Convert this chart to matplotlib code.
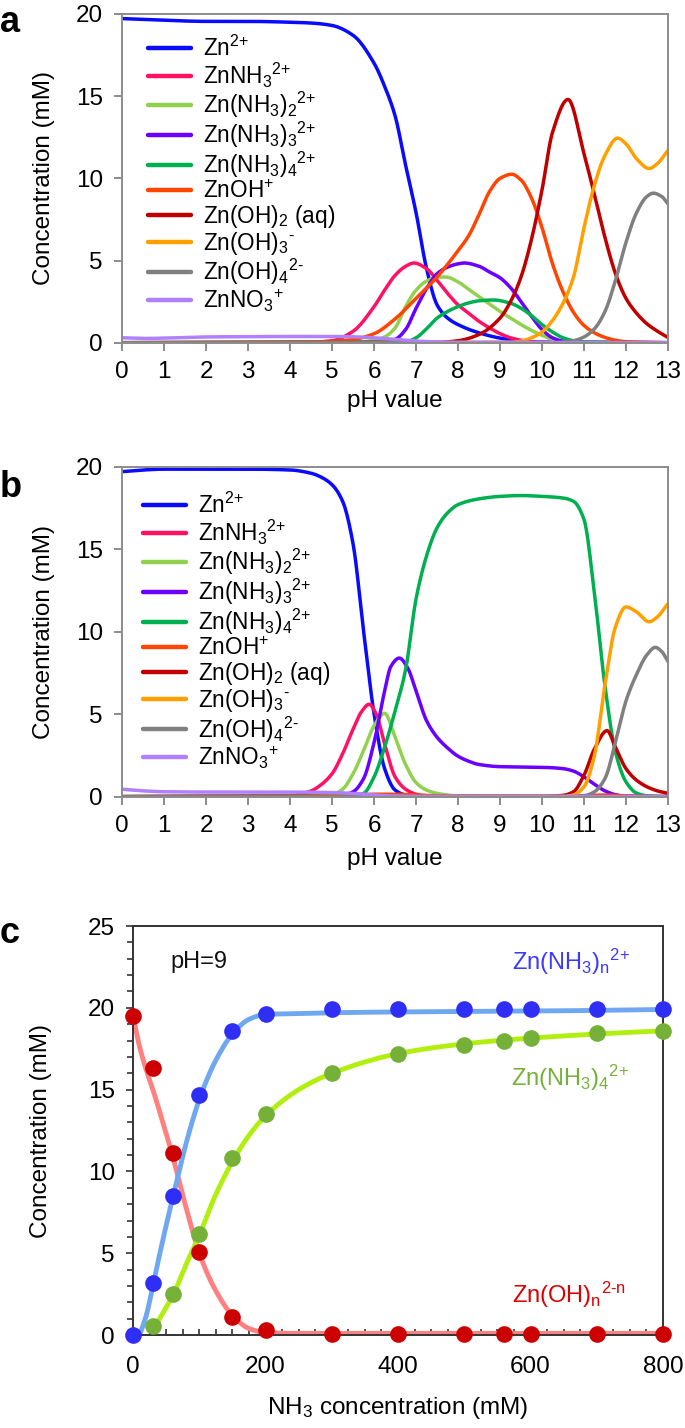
import numpy as np
import matplotlib
matplotlib.use('Agg')
import matplotlib.pyplot as plt

plt.rcParams['font.family'] = ['Liberation Sans', 'DejaVu Sans']
plt.rcParams['mathtext.fontset'] = 'custom'
plt.rcParams['mathtext.rm'] = 'Liberation Sans'
plt.rcParams['mathtext.it'] = 'Liberation Sans:italic'
plt.rcParams['mathtext.bf'] = 'Liberation Sans:bold'
plt.rcParams['mathtext.default'] = 'regular'

# ---- species (panels a and b) ----
species = [r'Zn$^{\text{2+}}$', r'ZnNH$_3{}^{\text{2+}}$', r'Zn(NH$_3$)$_2{}^{\text{2+}}$',
           r'Zn(NH$_3$)$_3{}^{\text{2+}}$', r'Zn(NH$_3$)$_4{}^{\text{2+}}$', r'ZnOH$^{\text{+}}$',
           r'Zn(OH)$_2$ (aq)', r'Zn(OH)$_3{}^{\text{-}}$', r'Zn(OH)$_4{}^{\text{2-}}$',
           r'ZnNO$_3{}^{\text{+}}$']
colors = ['#0a0aff', '#ff1166', '#92d050', '#6a00ff', '#00b050', '#ff4500',
          '#c00000', '#ffa000', '#808080', '#b080ff']

# panel a: (pH points, concentration mM) per species
ph_a_zn = [0, 1, 2, 3, 4, 4.5, 5, 5.5, 6, 6.25, 6.5, 6.75, 7, 7.25, 7.5, 7.75, 8, 8.5, 9, 9.5, 10, 13]
c_a_zn = [19.72, 19.62, 19.55, 19.55, 19.5, 19.45, 19.3, 18.7, 17.0, 15.6, 13.8, 10.8, 7.9, 4.5, 2.3, 1.5, 1.1, 0.6, 0.28, 0.1, 0.03, 0]
ph_a_n1 = [0, 4.5, 5, 5.5, 6, 6.25, 6.5, 6.75, 6.95, 7.25, 7.5, 7.75, 8, 8.25, 8.5, 8.75, 9, 9.25, 9.5, 9.75, 10, 13]
c_a_n1 = [0, 0.03, 0.12, 0.7, 2.2, 3.2, 4.1, 4.65, 4.85, 4.5, 3.8, 3.0, 2.3, 1.8, 1.3, 0.9, 0.55, 0.3, 0.15, 0.06, 0.02, 0]
ph_a_n2 = [0, 5.5, 6, 6.25, 6.5, 6.75, 7, 7.25, 7.5, 7.7, 8, 8.25, 8.5, 8.75, 9, 9.25, 9.5, 9.75, 10, 10.25, 10.5, 13]
c_a_n2 = [0, 0.02, 0.15, 0.35, 0.9, 2.2, 3.2, 3.75, 3.98, 4.0, 3.7, 3.25, 2.8, 2.35, 1.9, 1.5, 1.1, 0.75, 0.45, 0.2, 0.08, 0]
ph_a_n3 = [0, 6.25, 6.5, 6.75, 7, 7.25, 7.5, 7.75, 8, 8.15, 8.5, 8.75, 9, 9.25, 9.5, 9.75, 10, 10.25, 10.5, 11, 13]
c_a_n3 = [0, 0.03, 0.2, 0.8, 2.1, 3.3, 4.2, 4.6, 4.8, 4.85, 4.65, 4.3, 3.95, 3.35, 2.5, 1.6, 0.8, 0.3, 0.1, 0.02, 0]
ph_a_n4 = [0, 6.75, 7, 7.25, 7.5, 7.75, 8, 8.25, 8.5, 8.85, 9.25, 9.5, 9.75, 10, 10.25, 10.5, 10.75, 11, 13]
c_a_n4 = [0, 0.05, 0.3, 0.85, 1.5, 1.9, 2.2, 2.42, 2.55, 2.6, 2.4, 2.1, 1.65, 1.1, 0.65, 0.3, 0.12, 0.04, 0]
ph_a_oh1 = [0, 4, 5, 5.5, 6, 6.5, 7, 7.5, 8, 8.25, 8.5, 8.75, 9, 9.28, 9.5, 9.75, 10, 10.25, 10.5, 10.75, 11, 11.25, 11.5, 11.75, 12, 13]
c_a_oh1 = [0, 0.02, 0.08, 0.2, 0.55, 1.45, 2.7, 4.0, 5.6, 6.5, 7.8, 9.2, 10.0, 10.25, 9.9, 8.8, 7.0, 4.8, 3.1, 1.85, 1.05, 0.6, 0.32, 0.15, 0.06, 0]
ph_a_oh2 = [0, 7.5, 8, 8.5, 9, 9.25, 9.5, 9.75, 10, 10.25, 10.62, 11, 11.25, 11.5, 11.75, 12, 12.25, 12.5, 12.75, 13]
c_a_oh2 = [0, 0.02, 0.12, 0.5, 1.5, 2.5, 4.0, 6.3, 9.3, 12.8, 14.8, 11.5, 9.0, 6.4, 4.2, 2.7, 1.8, 1.15, 0.7, 0.32]
ph_a_oh3 = [0, 9.25, 9.5, 9.75, 10, 10.25, 10.5, 10.75, 11, 11.25, 11.5, 11.8, 12.0, 12.25, 12.55, 12.75, 13]
c_a_oh3 = [0, 0.03, 0.1, 0.3, 0.65, 1.35, 2.4, 4.0, 7.0, 9.6, 11.4, 12.45, 12.1, 11.2, 10.6, 10.9, 11.7]
ph_a_oh4 = [0, 10.25, 10.5, 10.75, 11, 11.25, 11.5, 11.75, 12, 12.25, 12.5, 12.65, 12.85, 13]
c_a_oh4 = [0, 0.01, 0.04, 0.12, 0.35, 0.85, 1.9, 3.8, 6.1, 7.9, 8.9, 9.1, 8.9, 8.45]
ph_a_no3 = [0, 0.5, 1, 2, 3, 4, 5, 5.5, 6, 6.5, 7, 7.5, 8, 13]
c_a_no3 = [0.3, 0.26, 0.28, 0.35, 0.37, 0.38, 0.38, 0.36, 0.3, 0.2, 0.1, 0.04, 0.01, 0]

# panel b
ph_b_zn = [0, 0.5, 1, 2, 3, 4, 4.5, 4.75, 5, 5.25, 5.5, 5.75, 6, 6.25, 6.5, 6.75, 7, 13]
c_b_zn = [19.7, 19.8, 19.85, 19.85, 19.85, 19.8, 19.6, 19.35, 18.9, 17.9, 15.3, 10.0, 5.0, 1.7, 0.4, 0.1, 0.02, 0]
ph_b_n1 = [0, 4, 4.25, 4.5, 4.75, 5, 5.25, 5.5, 5.7, 5.88, 6.05, 6.25, 6.5, 6.75, 7, 7.25, 13]
c_b_n1 = [0, 0.05, 0.15, 0.35, 0.75, 1.4, 2.6, 4.1, 5.15, 5.6, 5.0, 3.2, 1.2, 0.45, 0.15, 0.05, 0]
ph_b_n2 = [0, 4.75, 5, 5.25, 5.5, 5.75, 6, 6.25, 6.5, 6.75, 7, 7.25, 7.5, 8, 13]
c_b_n2 = [0, 0.03, 0.12, 0.45, 1.4, 2.8, 4.3, 5.05, 3.6, 1.95, 0.85, 0.4, 0.2, 0.05, 0]
ph_b_n3 = [0, 5.25, 5.5, 5.75, 6, 6.25, 6.4, 6.6, 6.8, 7, 7.25, 7.5, 7.75, 8, 8.25, 8.5, 9, 9.5, 10, 10.5, 10.75, 11, 11.25, 11.5, 11.75, 12, 13]
c_b_n3 = [0, 0.1, 0.3, 1.1, 3.3, 6.4, 7.9, 8.4, 7.8, 6.4, 4.6, 3.6, 2.95, 2.45, 2.15, 1.95, 1.82, 1.8, 1.78, 1.7, 1.55, 1.2, 0.75, 0.35, 0.12, 0.03, 0]
ph_b_n4 = [0, 5.5, 5.75, 6, 6.25, 6.5, 6.75, 7, 7.25, 7.5, 7.75, 8, 8.5, 9, 9.5, 10, 10.5, 10.75, 11, 11.25, 11.5, 11.75, 12, 12.25, 12.5, 13]
c_b_n4 = [0, 0.03, 0.2, 1.2, 3.0, 5.2, 7.7, 12.0, 14.6, 16.3, 17.2, 17.7, 18.05, 18.2, 18.25, 18.2, 18.1, 17.9, 16.8, 12.3, 6.7, 2.7, 0.9, 0.22, 0.05, 0]
ph_b_oh1 = [0, 4, 5, 6, 6.5, 7, 7.5, 8, 10, 11, 11.5, 12, 13]
c_b_oh1 = [0, 0.02, 0.08, 0.15, 0.15, 0.1, 0.05, 0.02, 0.01, 0.06, 0.1, 0.04, 0]
ph_b_oh2 = [0, 10, 10.5, 10.75, 11, 11.25, 11.55, 11.75, 12, 12.25, 12.5, 12.75, 13]
c_b_oh2 = [0, 0.01, 0.08, 0.3, 1.3, 2.9, 4.0, 3.0, 1.7, 1.0, 0.6, 0.35, 0.2]
ph_b_oh3 = [0, 10.5, 10.75, 11, 11.25, 11.5, 11.75, 12.0, 12.25, 12.55, 12.75, 13]
c_b_oh3 = [0, 0.02, 0.1, 0.6, 2.5, 6.8, 10.3, 11.5, 11.2, 10.6, 10.9, 11.7]
ph_b_oh4 = [0, 10.75, 11, 11.25, 11.5, 11.75, 12, 12.25, 12.5, 12.7, 12.85, 13]
c_b_oh4 = [0, 0.01, 0.05, 0.3, 1.1, 3.3, 5.8, 7.4, 8.6, 9.05, 8.8, 8.2]
ph_b_no3 = [0, 0.5, 1, 2, 3, 4, 5, 5.5, 6, 6.5, 7, 13]
c_b_no3 = [0.45, 0.35, 0.3, 0.28, 0.28, 0.28, 0.25, 0.2, 0.1, 0.03, 0.01, 0]

# ---- panel c: pH = 9, vs NH3 concentration ----
nh3 = [0, 30, 60, 100, 150, 200, 300, 400, 500, 560, 600, 700, 800]
znnh3n = [0, 3.2, 8.5, 14.65, 18.6, 19.6, 19.9, 19.95, 19.95, 19.95, 19.95, 19.95, 19.95]
znoh = [19.5, 16.3, 11.1, 5.1, 1.1, 0.3, 0.05, 0.05, 0.05, 0.05, 0.05, 0.05, 0.05]
nh3_g = [30, 60, 100, 150, 200, 300, 400, 500, 560, 600, 700, 800]
znnh34 = [0.55, 2.5, 6.2, 10.8, 13.5, 16.0, 17.15, 17.75, 17.95, 18.15, 18.45, 18.6]
# fitted curves
fit_x_blue = [10, 20, 30, 40, 50, 60, 80, 100, 125, 150, 175, 200, 250, 300, 400, 600, 800]
fit_blue = [0, 1.2, 3.0, 4.9, 6.7, 8.4, 11.7, 14.4, 16.8, 18.4, 19.3, 19.6, 19.65, 19.7, 19.75, 19.8, 19.9]
fit_x_red = [0, 10, 20, 30, 45, 60, 80, 100, 125, 150, 175, 200, 250, 800]
fit_red = [19.5, 17.6, 16.2, 15.0, 13.0, 10.9, 7.8, 5.0, 2.7, 1.2, 0.4, 0.15, 0.1, 0.1]
fit_x_green = [30, 40, 50, 60, 80, 100, 125, 150, 175, 200, 250, 300, 400, 500, 600, 700, 800]
fit_green = [0.3, 1.0, 1.7, 2.4, 4.3, 6.1, 8.6, 10.6, 12.2, 13.4, 15.0, 16.0, 17.2, 17.8, 18.15, 18.4, 18.6]


def smooth(x, y, n=400):
    # monotone cubic (pchip) for drawing smooth lines through the read points
    x = np.asarray(x, float)
    y = np.asarray(y, float)
    h = np.diff(x)
    d = np.diff(y) / h
    m = np.zeros_like(y)
    for k in range(1, len(x) - 1):
        if d[k - 1] * d[k] > 0:
            w1 = 2 * h[k] + h[k - 1]
            w2 = h[k] + 2 * h[k - 1]
            m[k] = (w1 + w2) / (w1 / d[k - 1] + w2 / d[k])
    m[0] = d[0]
    m[-1] = d[-1]
    xs = np.linspace(x[0], x[-1], n)
    i = np.clip(np.searchsorted(x, xs) - 1, 0, len(h) - 1)
    t = (xs - x[i]) / h[i]
    ys = ((2 * t**3 - 3 * t**2 + 1) * y[i] + (t**3 - 2 * t**2 + t) * h[i] * m[i]
          + (-2 * t**3 + 3 * t**2) * y[i + 1] + (t**3 - t**2) * h[i] * m[i + 1])
    return xs, ys


fig = plt.figure(figsize=(6.85, 14.28), dpi=100)

ax_a = fig.add_axes([0.1785, 0.760, 0.7966, 0.2302])
ax_b = fig.add_axes([0.1785, 0.4421, 0.7966, 0.2311])
ax_c = fig.add_axes([0.1942, 0.0651, 0.7737, 0.2864])

data_a = [(ph_a_zn, c_a_zn), (ph_a_n1, c_a_n1), (ph_a_n2, c_a_n2), (ph_a_n3, c_a_n3),
          (ph_a_n4, c_a_n4), (ph_a_oh1, c_a_oh1), (ph_a_oh2, c_a_oh2), (ph_a_oh3, c_a_oh3),
          (ph_a_oh4, c_a_oh4), (ph_a_no3, c_a_no3)]
data_b = [(ph_b_zn, c_b_zn), (ph_b_n1, c_b_n1), (ph_b_n2, c_b_n2), (ph_b_n3, c_b_n3),
          (ph_b_n4, c_b_n4), (ph_b_oh1, c_b_oh1), (ph_b_oh2, c_b_oh2), (ph_b_oh3, c_b_oh3),
          (ph_b_oh4, c_b_oh4), (ph_b_no3, c_b_no3)]

panels = [(ax_a, data_a, 'a', (0.047, 0.935), 0.9776, 5),
          (ax_b, data_b, 'b', (0.038, 0.922), 0.652, 8)]
for ax, data, lab, anchor, lab_y, xpad in panels:
    for (px, cy), col, name in zip(data, colors, species):
        xs, ys = smooth(px, cy, 800)
        ax.plot(xs, ys, color=col, lw=2.5, label=name, solid_capstyle='round')
    ax.set_xlim(0, 13)
    ax.set_ylim(0, 20)
    ax.set_xticks(range(0, 14))
    ax.set_yticks([0, 5, 10, 15, 20])
    for s in ax.spines.values():
        s.set_color('#8c8c8c')
        s.set_linewidth(1.4)
    ax.tick_params(direction='out', length=6, width=1.4, color='#8c8c8c',
                   labelsize=17.5)
    ax.tick_params(axis='y', pad=8)
    ax.tick_params(axis='x', pad=7)
    ax.set_xlabel('pH value', fontsize=17.5, labelpad=xpad)
    ax.set_ylabel('Concentration (mM)', fontsize=17.5, labelpad=15)
    leg = ax.legend(loc='upper left', bbox_to_anchor=anchor, frameon=False,
                    fontsize=16.3, handlelength=1.9, handletextpad=0.52,
                    labelspacing=0.0, borderpad=0, borderaxespad=0)
    for line in leg.get_lines():
        line.set_linewidth(3.2)
    fig.text(0.0, lab_y, lab, fontsize=26, fontweight='bold', va='baseline', ha='left')

# panel c
xs, ys = smooth(fit_x_red, fit_red)
ax_c.plot(xs, ys, color='#ff8080', lw=3.5, zorder=2)
xs, ys = smooth(fit_x_blue, fit_blue)
ax_c.plot(xs, ys, color='#6fa8f0', lw=3.5, zorder=2)
xs, ys = smooth(fit_x_green, fit_green)
ax_c.plot(xs, ys, color='#b2ee10', lw=3.5, zorder=2)
ax_c.plot(nh3_g, znnh34, 'o', color='#75b038', ms=12, mec='none', zorder=3, clip_on=False)
ax_c.plot(nh3, znnh3n, 'o', color='#2e2ef5', ms=12, mec='none', zorder=3, clip_on=False)
ax_c.plot(nh3, znoh, 'o', color='#cc0000', ms=12, mec='none', zorder=3, clip_on=False)

ax_c.set_xlim(0, 800)
ax_c.set_ylim(0, 25)
ax_c.set_xticks([0, 200, 400, 600, 800])
ax_c.set_xticks(np.arange(0, 801, 25), minor=True)
ax_c.set_yticks([0, 5, 10, 15, 20, 25])
ax_c.set_yticks(np.arange(0, 26, 1), minor=True)
for s in ax_c.spines.values():
    s.set_color('#333333')
    s.set_linewidth(1.4)
ax_c.tick_params(axis='y', which='both', direction='out', color='#333333', width=1.2,
                 labelsize=17.5, pad=8)
ax_c.tick_params(axis='y', which='major', length=5)
ax_c.tick_params(axis='y', which='minor', length=4)
ax_c.tick_params(axis='x', which='both', direction='in', color='#333333', width=1.2,
                 labelsize=17.5, pad=15)
ax_c.tick_params(axis='x', which='major', length=5)
ax_c.tick_params(axis='x', which='minor', length=4)
ax_c.set_xlabel(r'NH$_3$ concentration (mM)', fontsize=17.5, labelpad=12)
ax_c.set_ylabel('Concentration (mM)', fontsize=17.5, labelpad=26)

ax_c.text(56, 22.8, 'pH=9', fontsize=17, va='center', ha='left', color='#111111')
ax_c.text(572, 22.8, r'Zn(NH$_3$)$_n{}^{\text{2+}}$', fontsize=17, va='center', ha='left',
          color='#3a3aff')
ax_c.text(570, 15.7, r'Zn(NH$_3$)$_4{}^{\text{2+}}$', fontsize=17, va='center', ha='left',
          color='#75b038')
ax_c.text(572, 2.45, r'Zn(OH)$_n{}^{\text{2-n}}$', fontsize=17, va='center', ha='left',
          color='#dd0000')
fig.text(0.0, 0.3396, 'c', fontsize=26, fontweight='bold', va='baseline', ha='left')

fig.savefig('out.png', dpi=100)
